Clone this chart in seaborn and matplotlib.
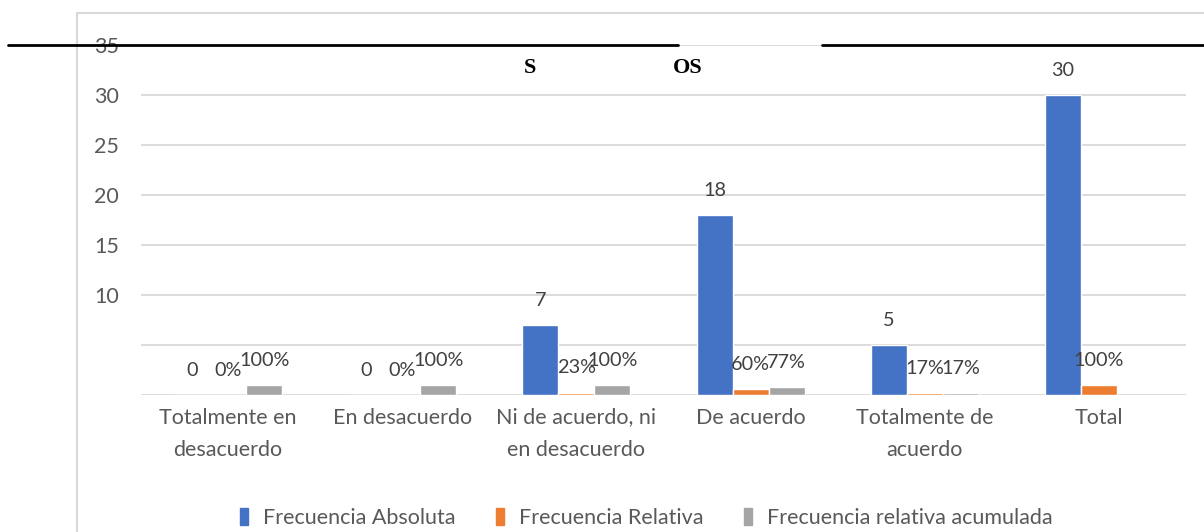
import numpy as np
import pandas as pd
import matplotlib
matplotlib.use("Agg")
import matplotlib.pyplot as plt
from matplotlib.lines import Line2D
from matplotlib.patches import Rectangle
import seaborn as sns

# Datos
categorias = ["Totalmente en\ndesacuerdo", "En desacuerdo", "Ni de acuerdo, ni\nen desacuerdo",
              "De acuerdo", "Totalmente de\nacuerdo", "Total"]
absoluta = [0, 0, 7, 18, 5, 30]
relativa = [0.00, 0.00, 0.23, 0.60, 0.17, 1.00]
acumulada = [1.00, 1.00, 1.00, 0.77, 0.17, np.nan]
series = ["Frecuencia Absoluta", "Frecuencia Relativa", "Frecuencia relativa acumulada"]
colores = ["#4472C4", "#ED7D31", "#A5A5A5"]
yticks = [0, 5, 10, 15, 20, 25, 30, 35]
ytick_labels = ["", "", "10", "15", "20", "25", "30", "35"]

df = pd.DataFrame({
    "categoria": categorias * 3,
    "serie": [series[0]] * 6 + [series[1]] * 6 + [series[2]] * 6,
    "valor": absoluta + relativa + acumulada,
})
df["etiqueta"] = ([f"{v:.0f}" for v in absoluta] + [f"{v:.0%}" for v in relativa]
                  + ["" if np.isnan(v) else f"{v:.0%}" for v in acumulada])
df = df.dropna(subset=["valor"])

sns.set_style("white")
plt.rcParams["font.family"] = ["Lato", "DejaVu Sans"]

fig = plt.figure(figsize=(12.04, 5.32), dpi=100)
ax = fig.add_axes([141 / 1204, 1 - 395 / 532, 1045 / 1204, 350 / 532])

sns.barplot(data=df, x="categoria", y="valor", hue="serie", palette=colores,
            width=0.62, saturation=1, ax=ax, legend=False, order=categorias,
            hue_order=series)

# Etiquetas de datos
for cont, serie in zip(ax.containers, series):
    sub = df[df["serie"] == serie].set_index("categoria")
    for bar in cont:
        if bar is None:
            continue
        idx = int(round(bar.get_x() + bar.get_width() / 2))
        cat = categorias[idx]
        if cat not in sub.index:
            continue
        ax.annotate(sub.loc[cat, "etiqueta"], (bar.get_x() + bar.get_width() / 2, bar.get_height()),
                    xytext=(0, 18), textcoords="offset points", ha="center", va="center",
                    fontsize=14.3, color="#404040")

ax.set_ylim(0, 35)
ax.set_yticks(yticks)
ax.set_yticklabels(ytick_labels)
ax.yaxis.grid(True, color="#d9d9d9", linewidth=1.3)
ax.set_axisbelow(True)
for s in ax.spines.values():
    s.set_visible(False)
ax.tick_params(axis="y", length=0, pad=16, labelsize=15.5, labelcolor="#595959")
ax.tick_params(axis="x", length=0, pad=9, labelsize=15.5, labelcolor="#595959")
for t in ax.get_xticklabels():
    t.set_linespacing(1.75)
ax.set_xlabel("")
ax.set_ylabel("")

# Leyenda
handles = [Rectangle((0, 0), 1, 1, color=c) for c in colores]
fig.legend(handles, series, loc="center", bbox_to_anchor=(0.537, 0.026), ncol=3,
           frameon=False, fontsize=15.5, labelcolor="#595959",
           handlelength=0.35, handleheight=0.8, handletextpad=0.7, columnspacing=1.9)

# Borde del área del gráfico y línea superior
fig.add_artist(Rectangle((77 / 1204, -0.1), 1.2, 1.1 - 13 / 532, fill=False,
                         edgecolor="#d9d9d9", linewidth=1.5, transform=fig.transFigure))
yl = 1 - 45 / 532
fig.add_artist(Line2D([8 / 1204, 678 / 1204], [yl, yl], color="black", linewidth=2))
fig.add_artist(Line2D([822 / 1204, 1.0], [yl, yl], color="black", linewidth=2))

# Restos del título
fig.text(530 / 1204, 1 - 68 / 532, "S", fontsize=16, family="Liberation Serif",
         weight="bold", ha="center", va="center", color="black")
fig.text(688 / 1204, 1 - 68 / 532, "OS", fontsize=16, family="Liberation Serif",
         weight="bold", ha="center", va="center", color="black")

fig.savefig("out.png", dpi=100)
